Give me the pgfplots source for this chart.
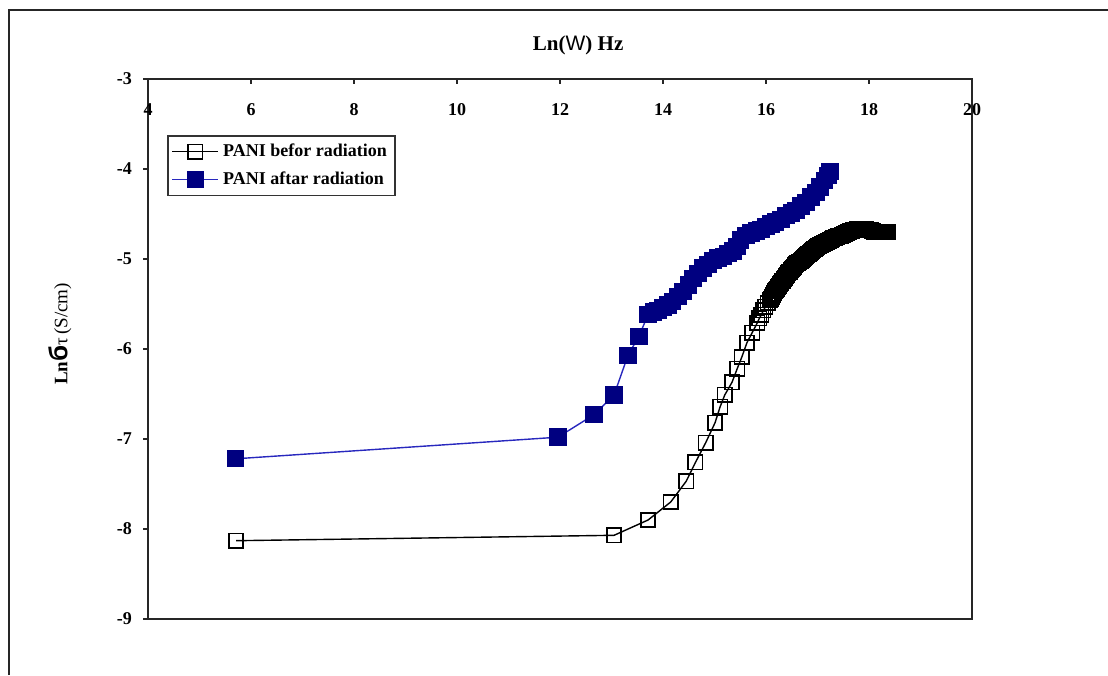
\documentclass[border=0pt]{standalone}
\usepackage{pgfplots}
\pgfplotsset{compat=1.18}
\usepackage{fontspec}
\setmainfont{Liberation Serif}
\newfontfamily\sansW{Liberation Sans}
\definecolor{navy}{RGB}{0,0,128}
\definecolor{blueline}{RGB}{40,40,190}
\begin{document}
\begin{tikzpicture}
\path[use as bounding box] (0pt,0pt) rectangle (554pt,337.5pt);
\draw[line width=1pt, black!85] (4.5pt,0pt) -- (4.5pt,332.5pt) -- (554pt,332.5pt);
\begin{axis}[
  scale only axis, width=412pt, height=270pt,
  at={(74pt,28pt)}, anchor=south west,
  xmin=4, xmax=20, ymin=-9, ymax=-3,
  xtick={4,6,8,10,12,14,16,18,20},
  xticklabels={4,6,8,10,12,14,16,18,20},
  ytick={-9,-8,-7,-6,-5,-4,-3},
  yticklabels={-9,-8,-7,-6,-5,-4,-3},
  xtick pos=right, ytick pos=left,
  xticklabel pos=right,
  xtick align=inside, ytick align=outside,
  major tick length=2.5pt,
  axis line style={line width=0.9pt, black!85},
  tick style={line width=0.7pt, black!85},
  ticklabel style={font=\bfseries\fontsize{9}{10}\selectfont},
  xticklabel style={anchor=center, yshift=-15.5pt},
  yticklabel style={anchor=east, xshift=-2pt},
  title={{\bfseries Ln(}{\sansW W}{\bfseries ) Hz}},
  title style={at={(axis description cs:0.522,1)}, anchor=center, yshift=11pt, font=\fontsize{10.5}{12}\selectfont},
  ylabel={{\bfseries Ln}{\sansW\bfseries\fontsize{13}{13}\selectfont б}τ\,(S/cm)},
  ylabel style={at={(axis description cs:-0.107,0.528)}, anchor=center, rotate=0, font=\fontsize{9.5}{11}\selectfont},
  legend style={at={(axis description cs:0.023,0.896)}, anchor=north west,
    draw=black!80, line width=0.8pt, font=\bfseries\fontsize{9}{11}\selectfont,
    inner sep=2pt, row sep=2pt, cells={anchor=west}},
  legend image code/.code={\draw[mark repeat=2,mark phase=2,#1] plot coordinates {(0pt,0pt) (11.5pt,0pt) (23pt,0pt)};},
]
\addplot[black, line width=0.7pt, mark=square, mark size=3.6pt, mark options={line width=0.8pt, solid}] coordinates {
(5.71,-8.13) (13.05,-8.07) (13.71,-7.90) (14.15,-7.70) (14.45,-7.47) (14.63,-7.26)
(14.83,-7.04) (15.01,-6.82) (15.11,-6.64) (15.20,-6.51) (15.34,-6.37) (15.44,-6.22)
(15.53,-6.09) (15.63,-5.93) (15.73,-5.82) (15.83,-5.71) (15.87,-5.66) (15.91,-5.62)
(15.95,-5.57) (15.99,-5.53) (16.03,-5.49) (16.07,-5.46)
(16.09,-5.44) (16.11,-5.42) (16.13,-5.40) (16.15,-5.38) (16.17,-5.36) (16.19,-5.34)
(16.21,-5.33) (16.23,-5.31) (16.25,-5.30) (16.27,-5.28) (16.29,-5.27) (16.31,-5.25)
(16.33,-5.24) (16.35,-5.22) (16.37,-5.21) (16.39,-5.19) (16.41,-5.18) (16.43,-5.16)
(16.45,-5.15) (16.47,-5.14) (16.49,-5.12) (16.51,-5.11) (16.53,-5.10) (16.55,-5.09)
(16.57,-5.07) (16.59,-5.06) (16.61,-5.05) (16.63,-5.04) (16.65,-5.03) (16.67,-5.02)
(16.69,-5.01) (16.71,-5.00) (16.73,-4.99) (16.75,-4.98) (16.77,-4.97) (16.79,-4.96)
(16.81,-4.95) (16.83,-4.94) (16.85,-4.93) (16.87,-4.92) (16.89,-4.91) (16.91,-4.90)
(16.93,-4.89) (16.95,-4.89) (16.97,-4.88) (16.99,-4.87) (17.01,-4.86) (17.03,-4.86)
(17.05,-4.85) (17.07,-4.84) (17.09,-4.83) (17.11,-4.83) (17.13,-4.82) (17.15,-4.82)
(17.17,-4.81) (17.19,-4.81) (17.21,-4.80) (17.23,-4.80) (17.25,-4.79) (17.27,-4.79)
(17.29,-4.78) (17.31,-4.77) (17.33,-4.77) (17.35,-4.76) (17.37,-4.76) (17.39,-4.75)
(17.41,-4.75) (17.43,-4.74) (17.45,-4.74) (17.47,-4.73) (17.49,-4.73) (17.51,-4.72)
(17.53,-4.72) (17.55,-4.71) (17.57,-4.71) (17.59,-4.70) (17.61,-4.70) (17.63,-4.69)
(17.65,-4.69) (17.67,-4.69) (17.69,-4.68) (17.71,-4.68) (17.73,-4.68) (17.75,-4.68)
(17.77,-4.67) (17.79,-4.67) (17.81,-4.67) (17.83,-4.67) (17.85,-4.67) (17.87,-4.67)
(17.89,-4.67) (17.91,-4.67) (17.93,-4.67) (17.95,-4.67) (17.97,-4.68) (17.99,-4.68)
(18.01,-4.68) (18.03,-4.68) (18.05,-4.69) (18.07,-4.69) (18.09,-4.70) (18.11,-4.70)
(18.13,-4.70) (18.15,-4.70) (18.17,-4.70) (18.19,-4.70) (18.21,-4.70) (18.23,-4.70)
(18.25,-4.70) (18.27,-4.70) (18.29,-4.70) (18.31,-4.70) (18.33,-4.70) (18.35,-4.70)
(18.37,-4.70)
};
\addlegendentry{PANI befor radiation}
\addplot[blueline, line width=0.7pt, mark=square*, mark size=4pt, mark options={navy, fill=navy, solid}] coordinates {
(5.70,-7.22) (11.96,-6.98) (12.66,-6.73) (13.05,-6.51) (13.32,-6.07) (13.53,-5.86)
(13.71,-5.62) (13.81,-5.59) (13.90,-5.57) (14.00,-5.54) (14.10,-5.51) (14.19,-5.47)
(14.29,-5.42) (14.39,-5.36) (14.49,-5.29) (14.58,-5.22) (14.68,-5.16) (14.78,-5.10)
(14.87,-5.06) (14.97,-5.02) (15.07,-4.99) (15.17,-4.97) (15.26,-4.94) (15.36,-4.91)
(15.44,-4.86) (15.51,-4.79) (15.61,-4.74) (15.71,-4.71) (15.81,-4.69) (15.90,-4.67)
(16.00,-4.64) (16.10,-4.61) (16.19,-4.59) (16.29,-4.56) (16.39,-4.52) (16.49,-4.49)
(16.58,-4.46) (16.68,-4.41) (16.78,-4.37) (16.87,-4.31) (16.97,-4.26) (17.05,-4.20)
(17.13,-4.13) (17.20,-4.07) (17.24,-4.03)
};
\addlegendentry{PANI aftar radiation}
\end{axis}
\end{tikzpicture}
\end{document}
